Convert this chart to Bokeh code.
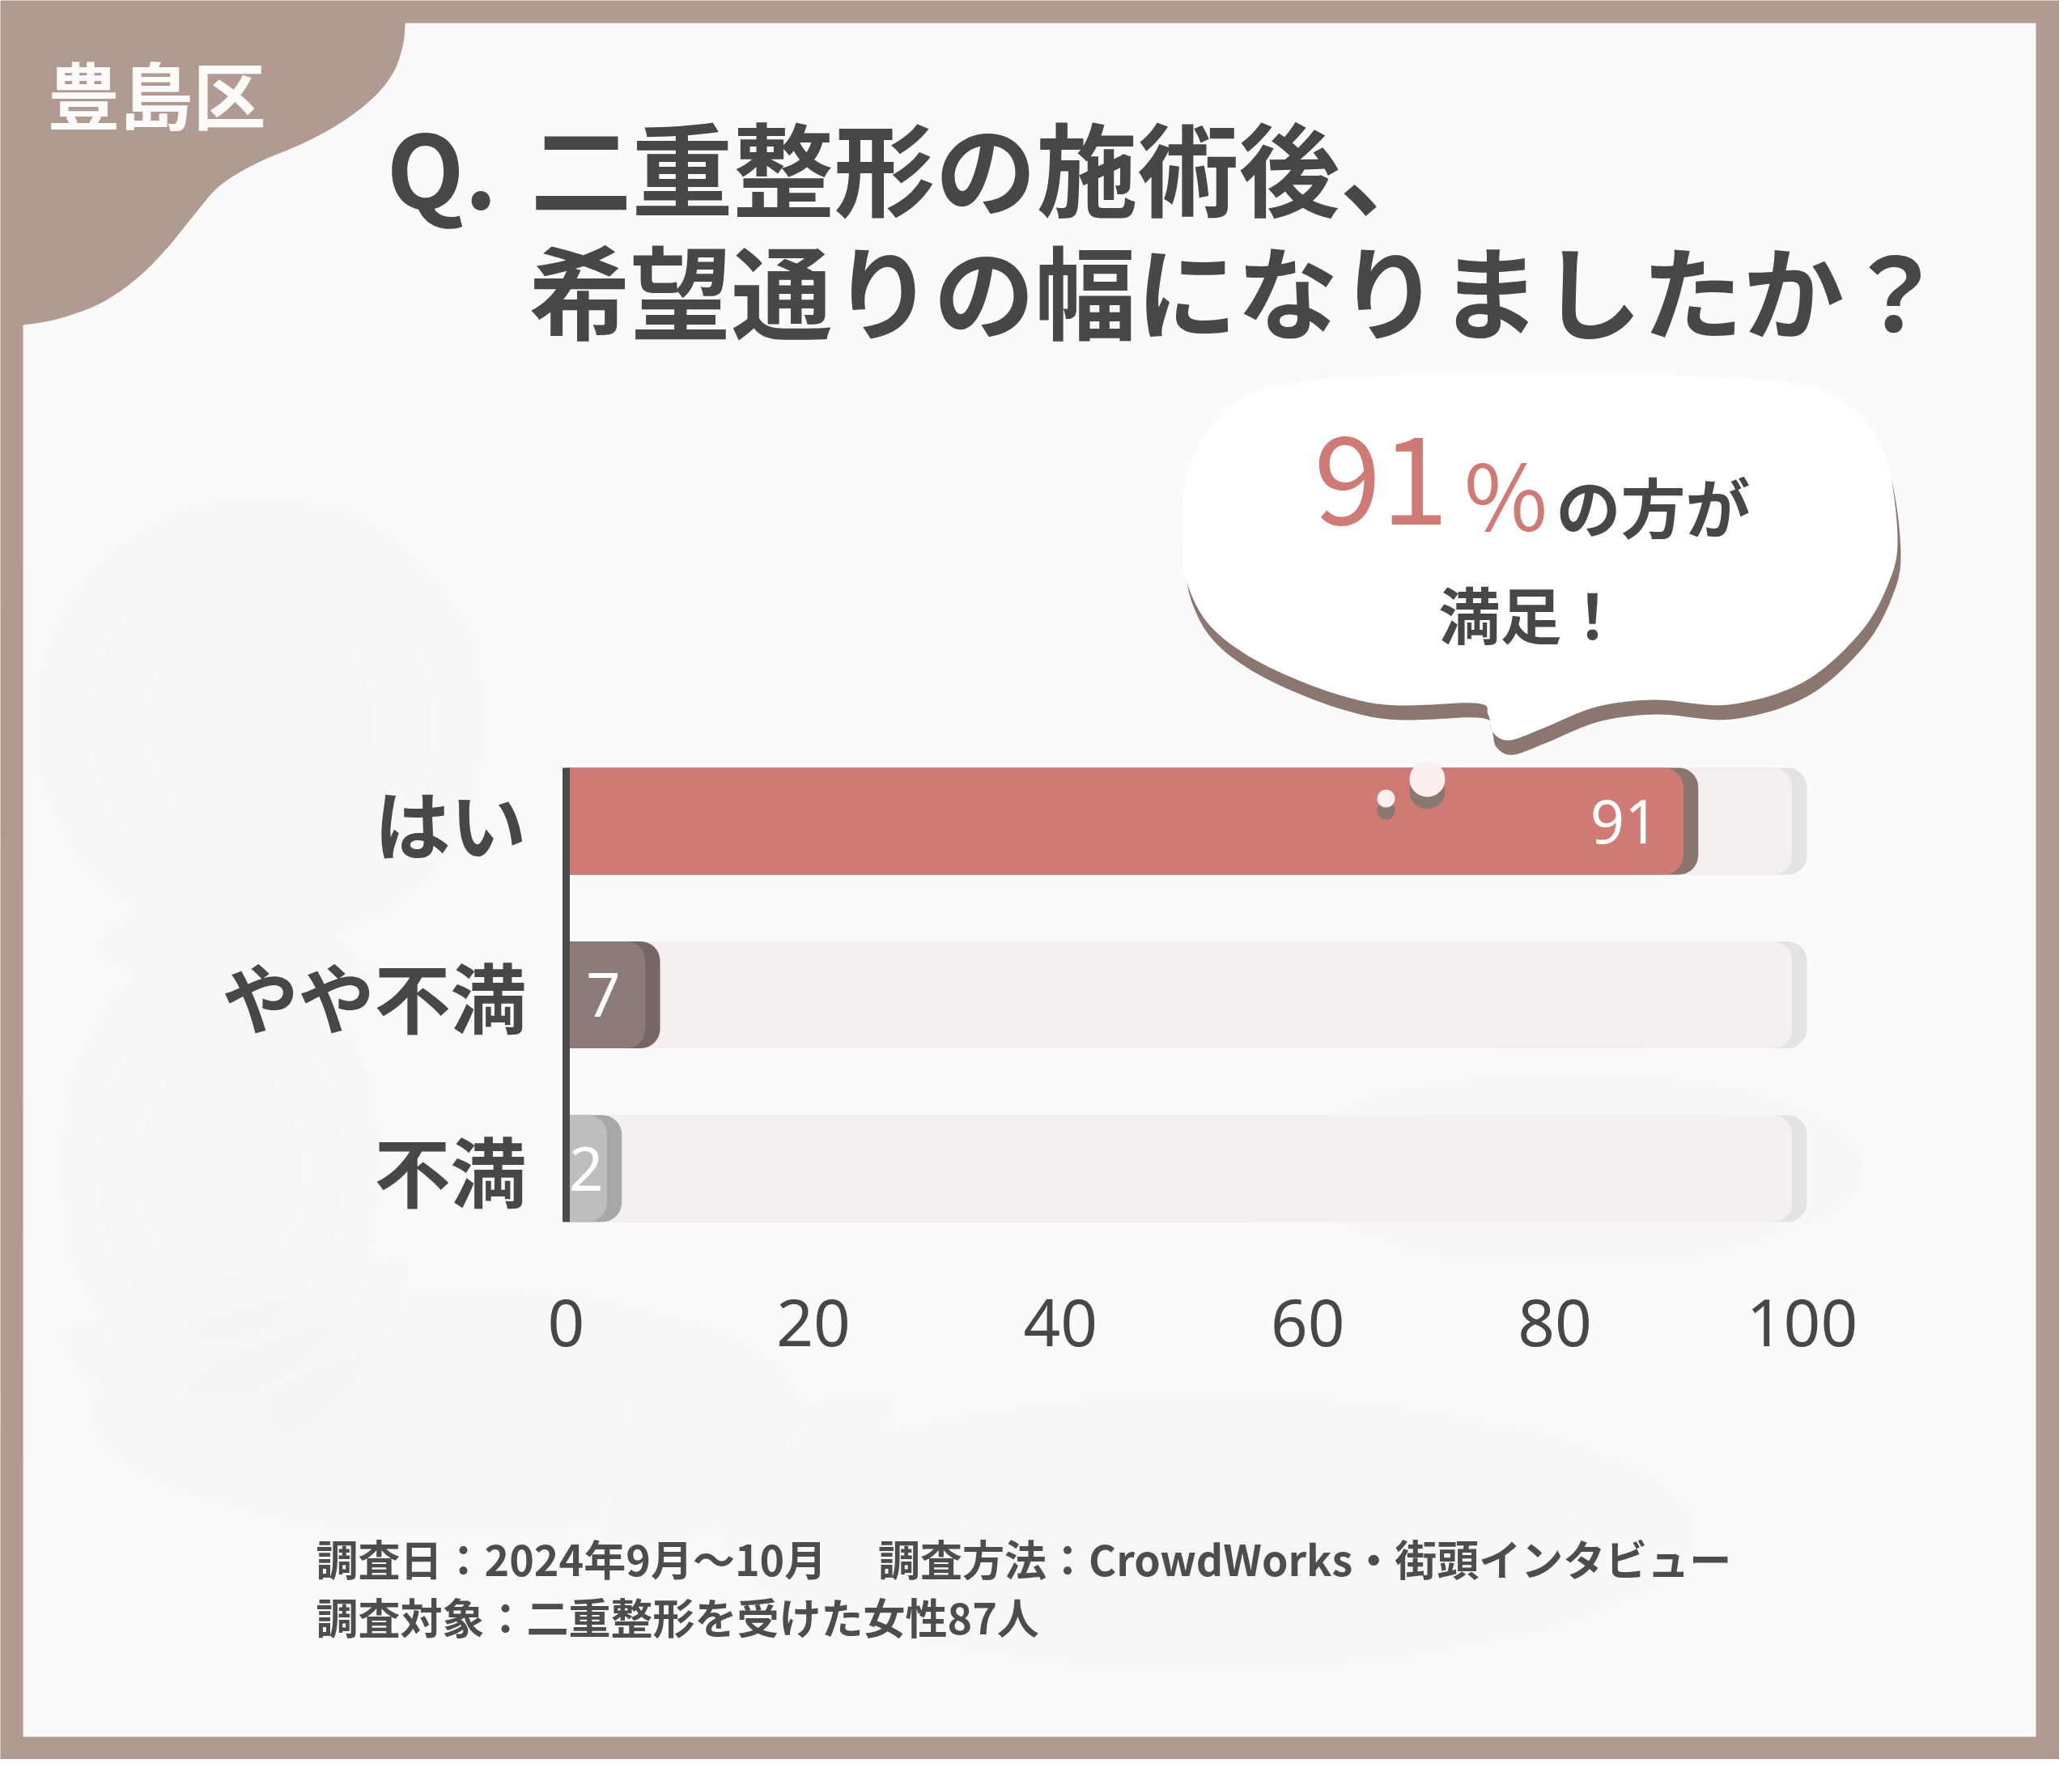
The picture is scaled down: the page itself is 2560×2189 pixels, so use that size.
from bokeh.plotting import figure
from bokeh.models import Range1d, ColumnDataSource
from bokeh.core.properties import value
from bokeh.embed import file_html
from bokeh.resources import INLINE

# ---------------- data ----------------
categories = ["はい", "やや不満", "不満"]
values = [91, 7, 2]
bar_colors = ["#cf7a74", "#8c7b78", "#c0bebd"]
shadow_colors = ["#8a746e", "#776662", "#a9a8a8"]
ticks = [0, 20, 40, 60, 80, 100]
tick_labels = ["0", "20", "40", "60", "80", "100"]
area_label = "豊島区"
title_q = "Q."
title_line1 = "二重整形の施術後、"
title_line2 = "希望通りの幅になりましたか？"
callout_pct = str(values[0])
callout_unit = "%"
callout_rest = "の方が"
callout_line2 = "満足！"
footer_line1 = "調査日：2024年9月〜10月　 調査方法：CrowdWorks・街頭インタビュー"
footer_line2 = "調査対象：二重整形を受けた女性87人"

# ---------------- layout constants ----------------
W, H = 2544, 2173
PX0 = 699.0      # canvas px of value 0
PXU = 15.27      # px per value unit
Y0B = 730.0      # canvas px (from bottom) of lowest category row
DY = 214.5       # px between rows
BAR_H = 0.615
TRACK_MAX = 100
MIN_FACE = 3.3   # minimum visible bar face (value units)
JP = "Noto Sans CJK JP"
BORDER = "#b19a92"
INK = "#474747"
ROSE = "#cf7a74"


def fx(x):
    return x - 8


def fy(y):
    return H - (y - 8)


def catmull(pts, n=10, closed=True):
    out = []
    m = len(pts)
    rng = range(m) if closed else range(m - 1)
    for i in rng:
        p0 = pts[i - 1] if (closed or i > 0) else pts[0]
        p1 = pts[i]
        p2 = pts[(i + 1) % m]
        p3 = pts[(i + 2) % m] if (closed or i + 2 < m) else pts[-1]
        for k in range(n):
            t = k / n
            t2, t3 = t * t, t * t * t
            xs = 0.5 * (2 * p1[0] + (-p0[0] + p2[0]) * t
                        + (2 * p0[0] - 5 * p1[0] + 4 * p2[0] - p3[0]) * t2
                        + (-p0[0] + 3 * p1[0] - 3 * p2[0] + p3[0]) * t3)
            ys = 0.5 * (2 * p1[1] + (-p0[1] + p2[1]) * t
                        + (2 * p0[1] - 5 * p1[1] + 4 * p2[1] - p3[1]) * t2
                        + (-p0[1] + 3 * p1[1] - 3 * p2[1] + p3[1]) * t3)
            out.append((xs, ys))
    if not closed:
        out.append(pts[-1])
    return out


p = figure(width=W, height=H, output_backend="svg", toolbar_location=None,
           x_range=Range1d(-PX0 / PXU, (W - PX0) / PXU),
           y_range=Range1d(-Y0B / DY, (H - Y0B) / DY),
           x_axis_location=None, y_axis_location=None,
           min_border=0, outline_line_color=None)
p.grid.visible = False
p.background_fill_color = BORDER
p.border_fill_color = BORDER
p.extra_x_ranges["px"] = Range1d(0, W)
p.extra_y_ranges["py"] = Range1d(0, H)

PXR = dict(x_range_name="px", y_range_name="py")

# white panel
p.quad(left=fx(36), right=fx(2523), top=fy(36), bottom=fy(2153),
       fill_color="#fbfafa", line_color=None, **PXR)

# soft smudges in the panel (layered faint ellipses)
sm_cx = [330, 560, 1500, 280, 1950]
sm_cy = [900, 1750, 1900, 1450, 1450]
sm_w = [700, 1100, 1500, 500, 900]
sm_h = [700, 380, 420, 700, 300]
for k in (1.0, 0.8, 0.6, 0.4):
    p.ellipse(x=[fx(v) for v in sm_cx], y=[fy(v) for v in sm_cy],
              width=[w * k for w in sm_w], height=[h * k for h in sm_h],
              fill_color="#8a8a8a", fill_alpha=0.008, line_color=None, **PXR)

# top-left blob
blob_curve = [(508, 30), (508, 40), (505, 65), (494, 96), (471, 126), (432, 157), (383, 184),
              (325, 209), (279, 237), (245, 276), (214, 314), (176, 352), (130, 383),
              (77, 402), (36, 409), (30, 409)]
bc = catmull(blob_curve, n=8, closed=False)
bx = [fx(30)] + [fx(a) for a, b in bc]
by = [fy(30)] + [fy(b) for a, b in bc]
p.patch(bx, by, fill_color=BORDER, line_color=None, **PXR)

p.text(x=[fx(66)], y=[fy(121)], text=[area_label], text_font=value(JP),
       text_font_size=value("90px"), text_font_style="bold", text_color="#fdfbfa",
       text_align="left", text_baseline="middle", **PXR)

# title
p.text(x=[fx(485), fx(663), fx(661)], y=[fy(211), fy(211), fy(363)],
       text=[title_q, title_line1, title_line2], text_font=value(JP),
       text_font_size=value("125px"), text_font_style="bold", text_color=INK,
       text_align="left", text_baseline="middle", **PXR)

# speech bubble
bubble = [(1900, 470), (2100, 472), (2236, 483), (2300, 515), (2338, 575), (2352, 673),
          (2340, 730), (2305, 790), (2236, 850), (2144, 878), (2052, 872), (1979, 881),
          (1912, 908), (1872, 922), (1852, 912), (1846, 890), (1830, 876), (1709, 877),
          (1593, 840), (1513, 791), (1477, 736), (1468, 673), (1477, 585), (1532, 505),
          (1624, 478), (1750, 471)]
bs = catmull(bubble, n=10, closed=True)
p.patch([fx(a + 4) for a, b in bs], [fy(b + 18) for a, b in bs],
        fill_color="#8b7770", line_color=None, **PXR)
p.patch([fx(a) for a, b in bs], [fy(b) for a, b in bs],
        fill_color="#ffffff", line_color=None, **PXR)

p.text(x=[fx(1714)], y=[fy(600)], text=[callout_pct], text_font=value(JP),
       text_font_size=value("150px"), text_color=ROSE,
       text_align="center", text_baseline="middle", **PXR)
p.text(x=[fx(1868)], y=[fy(614)], text=[callout_unit], text_font=value(JP),
       text_font_size=value("112px"), text_color=ROSE, text_align="center",
       text_baseline="middle", **PXR)
p.text(x=[fx(1930)], y=[fy(630)], text=[callout_rest], text_font=value(JP),
       text_font_size=value("80px"), text_font_style="bold", text_color=INK,
       text_align="left", text_baseline="middle", **PXR)
p.text(x=[fx(1899)], y=[fy(764)], text=[callout_line2], text_font=value(JP),
       text_font_size=value("76px"), text_font_style="bold", text_color=INK,
       text_align="center", text_baseline="middle", **PXR)

# ---------------- bars ----------------
n = len(categories)
ypos = [n - 1 - i for i in range(n)]
src = ColumnDataSource(dict(
    y=ypos, cat=categories, val=values,
    face=[max(v - 0.6, MIN_FACE) for v in values],
    shadow=[max(v + 0.6, MIN_FACE + 1.2) for v in values],
    color=bar_colors, scolor=shadow_colors,
    lab_x=[max(v - 2.6, 3.0) for v in values],
    lab=[str(v) for v in values],
))

rad = (0, 24, 24, 0)
p.hbar(y="y", left=0, right=TRACK_MAX + 0.4, height=BAR_H, source=src,
       fill_color="#e4e3e3", line_color=None, border_radius=rad)
p.hbar(y="y", left=0, right=TRACK_MAX - 0.8, height=BAR_H, source=src,
       fill_color="#f3f0ef", line_color=None, border_radius=rad)
p.hbar(y="y", left=0, right="shadow", height=BAR_H, source=src,
       fill_color="scolor", line_color=None, border_radius=rad)
p.hbar(y="y", left=0, right="face", height=BAR_H, source=src,
       fill_color="color", line_color=None, border_radius=rad)

# little drops under the bubble tail
p.scatter(x=[fx(1771), fx(1720)], y=[fy(985), fy(1009)], size=[44, 22],
          fill_color="#8b7770", line_color=None, **PXR)
p.scatter(x=[fx(1771), fx(1720)], y=[fy(970), fy(994)], size=[44, 22],
          fill_color="#fcf0ef", line_color=None, **PXR)

# value labels
p.text(x="lab_x", y="y", text="lab", source=src, text_font=value("Noto Sans"),
       text_font_size=value("74px"), text_color="#ffffff", text_align="right",
       text_baseline="middle")

# axis line
p.segment(x0=0, x1=0, y0=-BAR_H / 2, y1=n - 1 + BAR_H / 2,
          line_color="#4a4a4a", line_width=9)

# category labels
p.text(x=0, y="y", text="cat", source=src, x_offset=-49, text_font=value(JP),
       text_font_size=value("94px"), text_font_style="bold", text_color=INK,
       text_align="right", text_baseline="middle")

# tick labels
TICK_Y = -(1641 - 8 - (H - Y0B)) / DY
p.text(x=ticks, y=[TICK_Y] * len(ticks), text=tick_labels, text_font=value("Noto Sans"),
       text_font_size=value("80px"), text_color=INK, text_align="center",
       text_baseline="middle")

# footer
p.text(x=[fx(398), fx(398)], y=[fy(1932), fy(2004)], text=[footer_line1, footer_line2],
       text_font=value(JP), text_font_size=value("52px"), text_font_style="bold",
       text_color="#4d4d4d", text_align="left", text_baseline="middle", **PXR)

open("out.html", "w").write(file_html(p, INLINE))
